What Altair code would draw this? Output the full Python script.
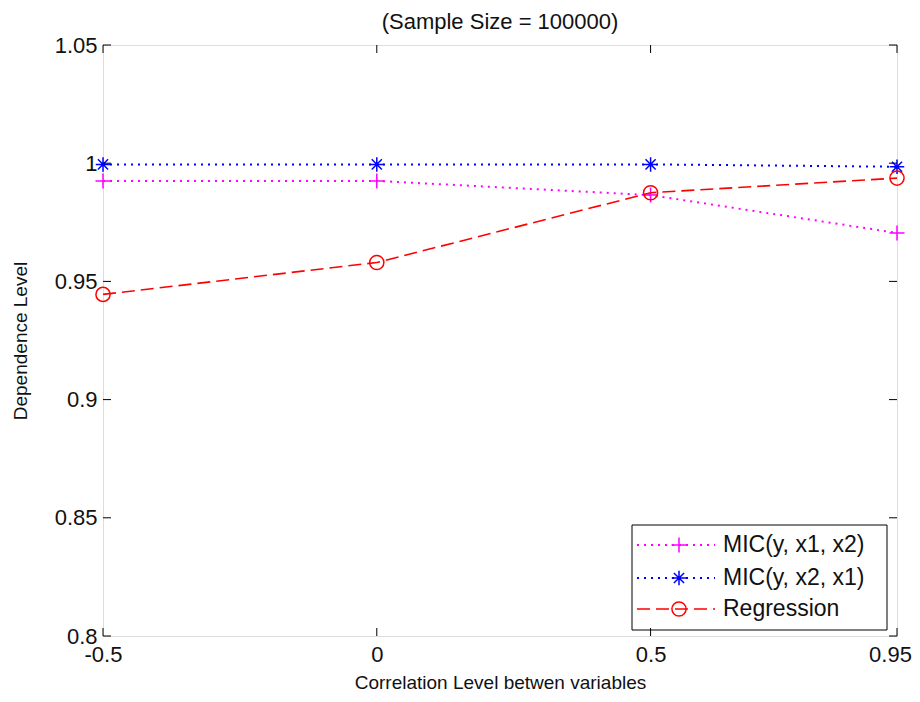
import altair as alt
import pandas as pd

# ---- data ----
x_values = [-0.5, 0, 0.5, 0.95]
mic_y_x1_x2 = [0.9925, 0.9925, 0.9865, 0.9705]
mic_y_x2_x1 = [0.9995, 0.9995, 0.9995, 0.9985]
regression = [0.9445, 0.9580, 0.9875, 0.9937]
y_ticks = [0.8, 0.85, 0.9, 0.95, 1.0, 1.05]
series_names = ["MIC(y, x1, x2)", "MIC(y, x2, x1)", "Regression"]
series_values = [mic_y_x1_x2, mic_y_x2_x1, regression]

W, H = 794, 591
FONT = "Liberation Sans"

PLUS = "M-1,0L1,0M0,-1L0,1"
STAR = "M-1,0L1,0M0,-1L0,1M-0.7,-0.7L0.7,0.7M-0.7,0.7L0.7,-0.7"
styles = [
    dict(color="#ff00ff", dash=[2, 5], shape=PLUS, size=225, sw=2),
    dict(color="#0000ff", dash=[2, 5], shape=STAR, size=210, sw=2),
    dict(color="#ff0000", dash=[13, 6], shape="circle", size=200, sw=1.6),
]

xscale = alt.Scale(domain=[-0.5, 0.95], nice=False, zero=False)
yscale = alt.Scale(domain=[0.8, 1.05], nice=False, zero=False)

xaxis = alt.Axis(title="Correlation Level betwen variables", ticks=False, domain=False,
                 grid=False, values=x_values, labelExpr="toString(datum.value)",
                 labelAngle=0, labelFontSize=22, labelFont=FONT,
                 labelColor="#111", labelPadding=8, titleFont=FONT, titleFontSize=19,
                 titleFontWeight="normal", titleColor="#111", titlePadding=8,
                 labelFlush=False,
                 labelOffset={"condition": {"test": "datum.value == 0.95", "value": -7},
                              "value": 0})
yaxis = alt.Axis(title="Dependence Level", ticks=False, domain=False, grid=False,
                 values=y_ticks, format="~g", labelFontSize=22, labelFont=FONT,
                 labelColor="#111", labelPadding=6, titleFont=FONT, titleFontSize=19,
                 titleFontWeight="normal", titleColor="#111", titlePadding=24,
                 labelFlush=False)

X = lambda: alt.X("x:Q", scale=xscale, axis=xaxis)
Y = lambda: alt.Y("y:Q", scale=yscale, axis=yaxis)

layers = []
for name, vals, st in zip(series_names, series_values, styles):
    df = pd.DataFrame({"x": x_values, "y": vals, "series": name})
    base = alt.Chart(df)
    layers.append(base.mark_line(color=st["color"], strokeDash=st["dash"],
                                 strokeWidth=st["sw"], strokeCap="butt").encode(x=X(), y=Y()))
    layers.append(base.mark_point(shape=st["shape"], size=st["size"], filled=False,
                                  color=st["color"], strokeWidth=1.5, opacity=1).encode(x=X(), y=Y()))

# ---- legend box (inside plot, bottom right) ----
one = pd.DataFrame({"k": [0]})
layers.append(alt.Chart(one).mark_rect(fill="white", stroke="black", strokeWidth=1).encode(
    x=alt.value(529), x2=alt.value(784), y=alt.value(480), y2=alt.value(585)))
rows_y = [500, 533, 564]
for name, st, ry in zip(series_names, styles, rows_y):
    ldf = pd.DataFrame({"label": [name]})
    lb = alt.Chart(ldf)
    layers.append(lb.mark_rule(color=st["color"], strokeDash=st["dash"], strokeWidth=st["sw"],
                               strokeCap="butt").encode(x=alt.value(534), x2=alt.value(612),
                                                        y=alt.value(ry)))
    layers.append(lb.mark_point(shape=st["shape"], size=st["size"], filled=False,
                                color=st["color"], strokeWidth=1.5, opacity=1).encode(
        x=alt.value(576), y=alt.value(ry)))
    layers.append(lb.mark_text(align="left", baseline="middle", font=FONT, fontSize=23,
                               color="#111").encode(
        x=alt.value(620), y=alt.value(ry), text="label:N"))

# ---- inward tick marks on all four sides ----
xt = alt.Chart(pd.DataFrame({"x": x_values}))
layers.append(xt.mark_rule(color="black", strokeWidth=1).encode(
    x=X(), y=alt.value(H), y2=alt.value(H - 8)))
layers.append(xt.mark_rule(color="black", strokeWidth=1).encode(
    x=X(), y=alt.value(0), y2=alt.value(8)))
yt = alt.Chart(pd.DataFrame({"y": y_ticks}))
layers.append(yt.mark_rule(color="black", strokeWidth=1).encode(
    y=Y(), x=alt.value(0), x2=alt.value(8)))
layers.append(yt.mark_rule(color="black", strokeWidth=1).encode(
    y=Y(), x=alt.value(W), x2=alt.value(W - 8)))

chart = alt.layer(*layers).properties(
    width=W, height=H,
    title=alt.TitleParams("(Sample Size = 100000)", font=FONT, fontSize=22,
                          fontWeight="normal", color="#111", offset=0, anchor="middle"),
    autosize=alt.AutoSizeParams(type="none"),
    padding={"left": 95, "top": 37, "right": 15, "bottom": 58},
).configure_view(stroke="black", strokeWidth=1).configure(background="white")

chart.save("out.html", embed_options={"renderer": "svg", "actions": False})
